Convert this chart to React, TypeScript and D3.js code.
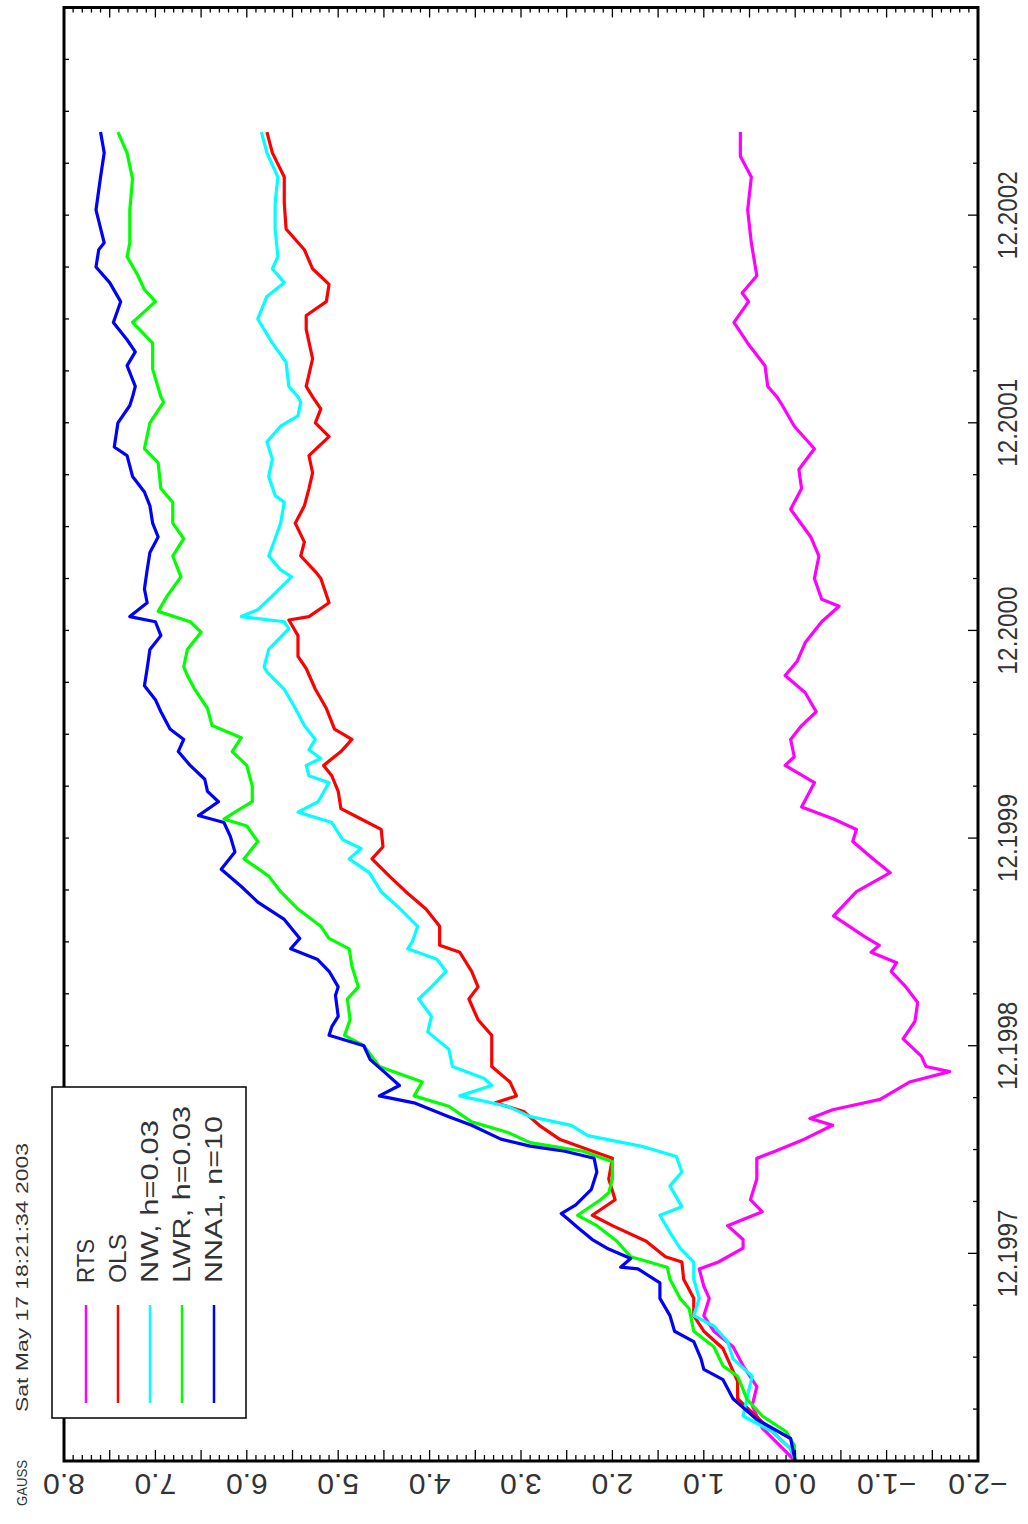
import React from 'react'
import * as d3 from 'd3'

// page size and plot frame (portrait page, landscape GAUSS plot turned on its side)
const W = 1028
const H = 1524
const frame = { left: 64, right: 978, top: 7.5, bottom: 1461 }

// months counted from 12.1996, values in %
const rts: [number, number][] = [
  [0, 0], [1.9, 0.36], [3.2, 0.47], [4.3, 0.42], [5.5, 0.57], [6.6, 0.68], [7.5, 0.89], [8.4, 1.0],
  [9.4, 0.94], [10.1, 1.0], [11.1, 1.05], [11.5, 0.84], [12.3, 0.57], [12.8, 0.57], [13.6, 0.74],
  [14.4, 0.36], [15.1, 0.49], [16.3, 0.42], [17.5, 0.42], [17.9, 0.22], [18.6, -0.1], [19.4, -0.41],
  [19.8, -0.16], [20.3, -0.41], [20.9, -0.93], [21.9, -1.25], [22.5, -1.69], [22.8, -1.43],
  [23.4, -1.38], [24.4, -1.18], [25.4, -1.31], [26.5, -1.34], [27.4, -1.21], [28.3, -1.05],
  [28.8, -1.11], [29.4, -0.83], [29.8, -0.92], [30.3, -0.76], [31.5, -0.42], [32.9, -0.67],
  [34.0, -1.04], [34.8, -0.85], [35.8, -0.63], [36.5, -0.67], [37.1, -0.42], [37.8, -0.07],
  [39.2, -0.21], [40.2, 0.11], [40.7, 0.01], [41.7, 0.05], [42.5, -0.07], [43.3, -0.23],
  [44.4, -0.11], [45.4, 0.11], [46.2, -0.02], [47.3, -0.11], [48.5, -0.29], [49.4, -0.48],
  [49.8, -0.29], [51.0, -0.21], [52.3, -0.26], [53.4, -0.17], [55.0, 0.05], [56.2, -0.07],
  [57.3, -0.04], [58.5, -0.21], [59.8, 0.01], [61.0, 0.14], [61.5, 0.2], [62.1, 0.3], [63.3, 0.33],
  [64.6, 0.52], [65.8, 0.67], [67.0, 0.51], [67.5, 0.58], [68.5, 0.42], [70.4, 0.48], [72.3, 0.52],
  [74.2, 0.48], [75.4, 0.6], [76.8, 0.6],
]

const ols: [number, number][] = [
  [0, 0], [0.7, 0.05], [1.7, 0.25], [2.8, 0.47], [3.6, 0.63], [4.6, 0.63], [6.5, 0.79], [7.5, 1.0],
  [8.4, 1.11], [9.4, 1.11], [10.5, 1.22], [11.5, 1.24], [11.8, 1.42], [12.7, 1.63], [13.6, 2.0],
  [14.2, 2.22], [15.1, 1.97], [16.3, 2.04], [17.5, 2.0], [18.0, 2.27], [18.6, 2.58], [19.4, 2.8],
  [20.2, 2.97], [20.7, 3.28], [21.1, 3.05], [21.9, 3.12], [22.8, 3.32], [24.6, 3.32], [25.5, 3.47],
  [26.7, 3.57], [27.4, 3.47], [28.3, 3.54], [29.4, 3.67], [29.8, 3.89], [30.9, 3.89], [31.9, 4.04],
  [32.9, 4.26], [33.8, 4.44], [34.8, 4.63], [35.5, 4.51], [36.5, 4.53], [37.1, 4.75], [37.7, 4.97],
  [38.7, 5.0], [39.6, 5.07], [40.2, 5.16], [41.0, 4.97], [41.7, 4.85], [42.3, 5.04], [43.5, 5.13],
  [44.6, 5.25], [45.8, 5.35], [46.5, 5.44], [47.7, 5.44], [48.6, 5.54], [48.8, 5.32], [49.6, 5.1],
  [51.0, 5.19], [51.4, 5.25], [52.3, 5.41], [53.1, 5.37], [54.2, 5.47], [55.2, 5.37], [56.2, 5.32],
  [57.1, 5.28], [58.1, 5.32], [59.2, 5.1], [60.0, 5.25], [60.8, 5.19], [61.5, 5.28], [62.1, 5.35],
  [63.7, 5.28], [65.4, 5.35], [66.2, 5.35], [67.0, 5.13], [68.0, 5.1], [68.9, 5.28], [70.0, 5.37],
  [71.2, 5.57], [72.7, 5.59], [74.2, 5.59], [75.6, 5.72], [76.8, 5.78],
]

const nw: [number, number][] = [
  [0, 0], [0.7, 0.05], [1.7, 0.25], [2.6, 0.57], [3.6, 0.53], [4.9, 0.47], [5.9, 0.68], [6.9, 0.74],
  [7.8, 0.89], [8.4, 1.11], [9.4, 1.05], [10.5, 1.11], [11.5, 1.11], [12.3, 1.26], [13.2, 1.37],
  [14.2, 1.48], [14.7, 1.24], [15.9, 1.37], [16.7, 1.24], [17.6, 1.3], [18.2, 1.69], [18.8, 2.27],
  [19.4, 2.45], [19.9, 2.9], [20.5, 3.15], [21.1, 3.67], [21.7, 3.32], [22.1, 3.4], [22.8, 3.75],
  [23.8, 3.79], [24.8, 4.02], [25.7, 3.98], [26.7, 4.12], [27.4, 3.98], [28.3, 3.82], [29.0, 3.92],
  [29.6, 4.24], [30.0, 4.19], [30.9, 4.13], [31.9, 4.32], [32.9, 4.53], [34.0, 4.66], [34.8, 4.88],
  [35.4, 4.75], [35.9, 4.95], [36.9, 5.07], [37.5, 5.44], [38.1, 5.22], [39.2, 5.1], [39.6, 5.32],
  [40.2, 5.35], [40.6, 5.19], [41.1, 5.32], [41.7, 5.25], [42.5, 5.37], [43.5, 5.47], [44.6, 5.59],
  [45.6, 5.78], [45.9, 5.81], [46.9, 5.76], [48.1, 5.54], [48.5, 5.59], [48.8, 6.06], [49.2, 5.88],
  [50.0, 5.72], [51.1, 5.51], [51.5, 5.63], [52.3, 5.76], [53.3, 5.69], [54.2, 5.63], [55.4, 5.59],
  [55.8, 5.69], [56.9, 5.76], [57.9, 5.72], [58.9, 5.78], [59.8, 5.63], [60.4, 5.44], [61.2, 5.41],
  [61.5, 5.44], [62.1, 5.54], [63.5, 5.57], [64.6, 5.72], [66.0, 5.88], [67.3, 5.78], [68.1, 5.59],
  [68.9, 5.72], [69.6, 5.66], [71.2, 5.69], [72.7, 5.69], [74.2, 5.66], [75.6, 5.78], [76.8, 5.84],
]

const lwr: [number, number][] = [
  [0, 0], [0.9, 0.01], [1.7, 0.1], [2.6, 0.36], [3.6, 0.53], [4.9, 0.63], [5.5, 0.79], [6.6, 0.89],
  [7.5, 1.11], [8.8, 1.16], [9.4, 1.26], [10.5, 1.37], [11.2, 1.4], [11.8, 1.8], [12.7, 1.95],
  [13.6, 2.17], [14.2, 2.38], [15.1, 2.13], [15.5, 2.04], [16.3, 2.0], [17.3, 2.0], [17.9, 2.32],
  [18.4, 2.9], [19.0, 3.15], [19.6, 3.54], [20.5, 3.79], [21.1, 4.17], [21.9, 4.08], [22.8, 4.55],
  [24.0, 4.72], [24.6, 4.93], [25.5, 4.87], [26.7, 4.9], [27.4, 4.78], [28.6, 4.85], [29.6, 4.88],
  [30.2, 5.1], [30.9, 5.19], [31.9, 5.44], [32.9, 5.63], [33.8, 5.76], [34.8, 6.03], [35.8, 5.88],
  [36.7, 6.0], [37.1, 6.25], [37.5, 6.13], [38.1, 5.94], [39.0, 5.94], [40.2, 6.0], [41.0, 6.16],
  [41.8, 6.06], [42.5, 6.38], [43.5, 6.43], [44.6, 6.57], [45.4, 6.65], [45.9, 6.69], [46.9, 6.65],
  [47.9, 6.5], [48.5, 6.62], [49.1, 6.97], [50.0, 6.87], [51.1, 6.72], [52.3, 6.81], [53.3, 6.69],
  [54.2, 6.81], [55.4, 6.81], [56.2, 6.94], [57.7, 6.97], [58.5, 7.12], [60.0, 7.06], [61.2, 6.91],
  [61.5, 6.94], [63.1, 7.03], [64.6, 7.03], [65.8, 7.25], [67.0, 7.0], [67.7, 7.12], [68.5, 7.19],
  [69.6, 7.31], [70.4, 7.28], [72.3, 7.28], [74.1, 7.25], [75.6, 7.31], [76.8, 7.41],
]

const nna1: [number, number][] = [
  [0, 0], [1.3, 0.05], [2.4, 0.42], [3.6, 0.68], [4.7, 0.79], [5.3, 1.0], [5.9, 1.03], [6.9, 1.11],
  [7.5, 1.32], [8.4, 1.37], [9.4, 1.48], [10.3, 1.48], [11.1, 1.72], [11.2, 1.91], [11.7, 1.8],
  [12.3, 2.06], [12.8, 2.22], [13.5, 2.38], [14.0, 2.49], [14.3, 2.56], [14.8, 2.4], [15.7, 2.23],
  [16.7, 2.17], [17.5, 2.2], [17.9, 2.52], [18.2, 2.9], [18.6, 3.22], [19.4, 3.54], [19.9, 3.79],
  [20.7, 4.17], [21.1, 4.55], [21.7, 4.33], [22.5, 4.5], [23.2, 4.65], [24.0, 4.72], [24.6, 5.1],
  [25.1, 5.07], [25.7, 5.0], [26.9, 5.03], [27.4, 5.0], [28.3, 5.1], [29.0, 5.23], [29.6, 5.52],
  [30.2, 5.42], [31.3, 5.59], [32.3, 5.88], [33.2, 6.06], [34.2, 6.28], [35.2, 6.13], [36.1, 6.18],
  [36.9, 6.25], [37.3, 6.53], [38.1, 6.31], [38.7, 6.43], [39.4, 6.46], [40.2, 6.62], [41.0, 6.75],
  [41.7, 6.69], [42.3, 6.84], [43.3, 6.94], [44.0, 7.0], [44.8, 7.12], [45.8, 7.09], [46.9, 7.06],
  [47.7, 6.94], [48.5, 7.0], [48.8, 7.28], [49.6, 7.09], [50.4, 7.12], [51.5, 7.09], [52.5, 7.06],
  [53.4, 6.97], [54.2, 7.03], [55.2, 7.06], [56.0, 7.12], [56.9, 7.25], [58.1, 7.31], [58.6, 7.45],
  [60.0, 7.41], [61.0, 7.28], [61.5, 7.25], [62.1, 7.22], [63.3, 7.31], [64.1, 7.22], [64.8, 7.31],
  [65.8, 7.46], [67.0, 7.38], [68.1, 7.5], [69.0, 7.65], [70.0, 7.62], [70.4, 7.56], [72.3, 7.65],
  [74.2, 7.6], [75.6, 7.56], [76.8, 7.6],
]

const seriesNames = ['RTS', 'OLS', 'NW, h=0.03', 'LWR, h=0.03', 'NNA1, n=10']
const seriesColors = ['#ff00ff', '#ff0000', '#00ffff', '#00ff00', '#0000ff']
const seriesData = [rts, ols, nw, lwr, nna1]

const yearLabels = ['12.1997', '12.1998', '12.1999', '12.2000', '12.2001', '12.2002']
const valueLabels = [-2, -1, 0, 1, 2, 3, 4, 5, 6, 7, 8]
const stamp = 'Sat May 17 18:21:34 2003'

const font = '"Liberation Sans", Arial, sans-serif'

export default function App() {
  // time runs up the page, value runs right-to-left
  const t = d3.scaleLinear().domain([0, 84]).range([frame.bottom, frame.top])
  const v = d3.scaleLinear().domain([8, -2]).range([frame.left, frame.right])
  const fmt = d3.format('.1f')

  const line = d3.line<[number, number]>()
    .x(d => v(d[1]))
    .y(d => t(d[0]))
    .curve(d3.curveLinear)

  const valueTicks = d3.range(-20, 81) // tenths
  const monthTicks = d3.range(0, 85, 3)

  return (
    <svg width={W} height={H} style={{ position: 'absolute', left: 0, top: 0, background: '#fff' }}>
      <rect x={0} y={0} width={W} height={H} fill="#fff" />

      {/* data */}
      <g fill="none" strokeWidth={3.2} strokeLinejoin="round">
        {seriesData.map((s, i) => (
          <path key={i} d={line(s) || ''} stroke={seriesColors[i]} />
        ))}
      </g>

      {/* value ticks on bottom and top edges */}
      <g stroke="#000" strokeWidth={1.3}>
        {valueTicks.map(k => {
          const x = v(k / 10)
          const big = k % 5 === 0
          return (
            <g key={k}>
              <line x1={x} x2={x} y1={frame.bottom} y2={frame.bottom - (big ? 11 : 6)} />
              <line x1={x} x2={x} y1={frame.top} y2={frame.top + (big ? 10 : 5)} />
            </g>
          )
        })}
        {monthTicks.map(m => {
          const y = t(m)
          const big = m % 12 === 0
          return (
            <g key={m}>
              <line x1={frame.right} x2={frame.right - (big ? 10 : 5)} y1={y} y2={y} />
              <line x1={frame.left} x2={frame.left + 5} y1={y} y2={y} />
            </g>
          )
        })}
      </g>

      <rect x={frame.left} y={frame.top} width={frame.right - frame.left} height={frame.bottom - frame.top}
        fill="none" stroke="#000" strokeWidth={3} />

      <g fontFamily={font} fill="#333">
        {/* time labels, right side */}
        {yearLabels.map((lab, i) => {
          const y = t(12 * (i + 1))
          return (
            <text key={lab} transform={`translate(1008,${y}) rotate(-90)`} textAnchor="middle" fontSize={27}
              dominantBaseline="central" textLength={88} lengthAdjust="spacingAndGlyphs">{lab}</text>
          )
        })}
        {/* value labels, bottom, upside down */}
        {valueLabels.map(val => (
          <text key={val} transform={`translate(${v(val)},1484) rotate(180)`} textAnchor="middle"
            fontSize={30} dominantBaseline="central">{fmt(val)}</text>
        ))}
      </g>

      <text transform="translate(27,1483) rotate(-90)" textAnchor="middle" fontFamily={font}
        fontSize={14} fill="#333" textLength={46} lengthAdjust="spacingAndGlyphs">GAUSS</text>
      <text transform="translate(28,1412) rotate(-90)" fontFamily={font} fontSize={17} fill="#333"
        textLength={269} lengthAdjust="spacingAndGlyphs">{stamp}</text>

      {/* legend */}
      <rect x={52} y={1087} width={194} height={331} fill="#fff" stroke="#000" strokeWidth={1.5} />
      {seriesNames.map((name, i) => {
        const x = 86 + i * 32
        const len = [44, 49, 163, 177, 167][i]
        return (
          <g key={name}>
            <line x1={x} x2={x} y1={1305} y2={1403} stroke={seriesColors[i]} strokeWidth={2.5} />
            <text transform={`translate(${x + 8},1283) rotate(-90)`} fontFamily={font} fontSize={23}
              fill="#333" textLength={len} lengthAdjust="spacingAndGlyphs">{name}</text>
          </g>
        )
      })}
    </svg>
  )
}
